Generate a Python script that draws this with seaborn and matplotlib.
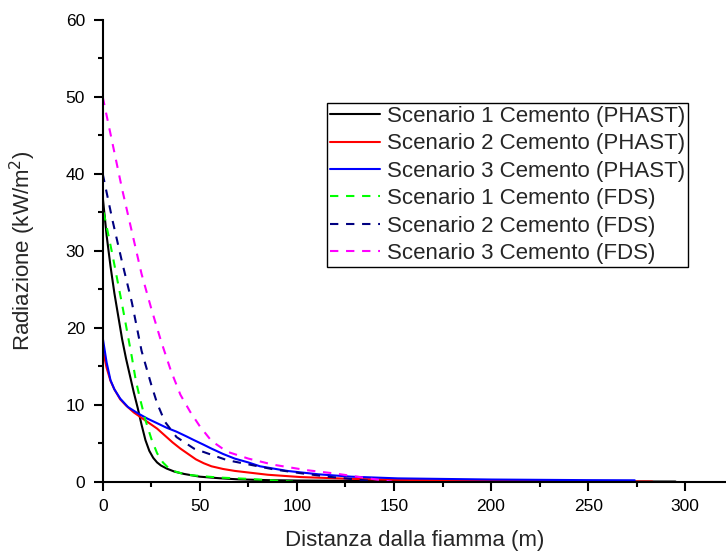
import numpy as np
import pandas as pd
import matplotlib
matplotlib.use("Agg")
import matplotlib.pyplot as plt
import seaborn as sns
from matplotlib.ticker import MultipleLocator

# --- data (x in m, y in kW/m2) ---
x_ph1 = [0, 2, 4, 6, 8, 10, 12, 14, 16, 18, 20, 22, 24, 26, 28, 30, 33, 37, 42, 50, 60, 70, 85,
         100, 150, 200, 250, 295]
y_ph1 = [37, 32, 28, 24.5, 21.5, 18.5, 16, 13.8, 11.6, 9.6, 7.4, 5.4, 4.0, 3.1, 2.5, 2.1, 1.7, 1.3, 1.0,
         0.65, 0.45, 0.3, 0.2, 0.15, 0.08, 0.05, 0.03, 0.02]

x_ph2 = [0, 2, 4, 6, 9, 12, 16, 20, 24, 28, 32, 36, 40, 44, 48, 52, 56, 62, 68, 85, 102, 128, 152,
         200, 250, 283]
y_ph2 = [17.2, 14.8, 13.1, 12, 10.7, 9.9, 9.0, 8.3, 7.6, 6.9, 6.0, 5.1, 4.3, 3.6, 2.9, 2.4, 2.0, 1.65,
         1.4, 0.9, 0.6, 0.37, 0.24, 0.12, 0.06, 0.02]

x_ph3 = [0, 2, 4, 6, 9, 13, 18, 23, 28, 33, 38, 43, 47, 52, 56, 62, 68, 75, 81, 95, 111, 128, 152,
         200, 250, 274]
y_ph3 = [18.7, 15.5, 13.2, 12, 10.8, 9.7, 8.9, 8.2, 7.6, 7.0, 6.5, 5.9, 5.4, 4.8, 4.3, 3.6, 3.0, 2.5,
         2.0, 1.4, 0.96, 0.65, 0.43, 0.28, 0.2, 0.18]

x_fds1 = [0.5, 5, 10, 15, 17, 19, 22, 25, 28, 31, 35, 43, 59, 76, 98]
y_fds1 = [35, 29.5, 23, 16.2, 13.2, 11, 8, 5.6, 3.7, 2.5, 1.5, 0.9, 0.55, 0.35, 0.0]

x_fds2 = [0, 5, 10, 15, 20, 25, 28, 32, 38, 47, 56, 64, 76, 88, 102, 116, 130, 140]
y_fds2 = [40, 34, 28.5, 23.3, 17, 12.6, 10.2, 7.8, 5.8, 4.3, 3.5, 2.8, 2.2, 1.6, 1.1, 0.65, 0.3, 0.05]

x_fds3 = [0, 5, 10, 15, 20, 25, 30, 35, 40, 45, 50, 56, 64, 75, 88, 105, 120, 137, 149]
y_fds3 = [50, 44, 38, 32.5, 27, 22.5, 18.3, 14.5, 11.3, 9.1, 7.2, 5.3, 3.9, 3.0, 2.2, 1.5, 1.05, 0.43, 0.0]

labels = ["Scenario 1 Cemento (PHAST)", "Scenario 2 Cemento (PHAST)", "Scenario 3 Cemento (PHAST)",
          "Scenario 1 Cemento (FDS)", "Scenario 2 Cemento (FDS)", "Scenario 3 Cemento (FDS)"]
colors = ["black", "#ff0000", "#0000ff", "#00ff00", "#000080", "#ff00ff"]
series = [(x_ph1, y_ph1), (x_ph2, y_ph2), (x_ph3, y_ph3),
          (x_fds1, y_fds1), (x_fds2, y_fds2), (x_fds3, y_fds3)]

sns.set_style("ticks")
plt.rcParams['font.family'] = ['Liberation Sans', 'DejaVu Sans']

fig = plt.figure(figsize=(7.26, 5.51), dpi=100)
ax = fig.add_axes([0.1415, 0.1258, 0.8585, 0.8379])

for i, ((xs, ys), lab, col) in enumerate(zip(series, labels, colors)):
    df = pd.DataFrame({'x': xs, 'y': ys})
    ls = '-' if i < 3 else (0, (4, 3.7))
    sns.lineplot(data=df, x='x', y='y', ax=ax, color=col, label=lab,
                 linewidth=1.5, linestyle=ls, sort=False)

ax.set_xlim(0, 321)
ax.set_ylim(0, 60)
ax.xaxis.set_major_locator(MultipleLocator(50))
ax.xaxis.set_minor_locator(MultipleLocator(25))
ax.yaxis.set_major_locator(MultipleLocator(10))
ax.yaxis.set_minor_locator(MultipleLocator(5))
ax.tick_params(which='major', direction='out', length=6.8, width=1.5, labelsize=12.5,
               pad=6, color='black', labelcolor='black')
ax.tick_params(which='minor', direction='out', length=3.3, width=1.5, color='black')
for s in ['top', 'right']:
    ax.spines[s].set_visible(False)
for s in ['left', 'bottom']:
    ax.spines[s].set_linewidth(1.5)
    ax.spines[s].set_color('black')

ax.set_xlabel('Distanza dalla fiamma (m)', fontsize=16, labelpad=11)
ax.set_ylabel('Radiazione (kW/m$^2$)', fontsize=16, labelpad=20)

leg = ax.legend(loc='upper right', bbox_to_anchor=(0.9395, 0.8197), borderaxespad=0,
                fontsize=16, frameon=True, fancybox=False, framealpha=1,
                edgecolor='black', handlelength=2.25, handletextpad=0.35,
                labelspacing=0.29, borderpad=0.12)
leg.get_frame().set_linewidth(1.0)

fig.savefig('out.png', dpi=100)
